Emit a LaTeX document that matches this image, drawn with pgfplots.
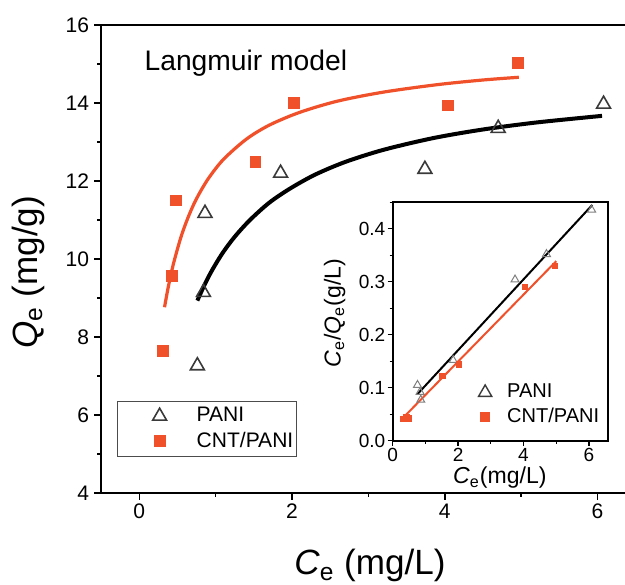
\documentclass[border=0pt]{standalone}
\usepackage{fontspec}
\setmainfont{Liberation Sans}
\usepackage{pgfplots}
\pgfplotsset{compat=1.18}
\usetikzlibrary{calc}
\definecolor{cntred}{HTML}{F0502A}
\definecolor{trigray}{HTML}{3A3A3A}

\begin{document}
\begin{tikzpicture}
\begin{axis}[
    name=main,
    scale only axis,
    width=263bp, height=233.5bp,
    xmin=-0.5, xmax=6.4, ymin=4, ymax=16,
    axis line style={line width=1bp},
    tick pos=left,
    tick align=outside,
    xtick={0,2,4,6}, minor xtick={1,3,5},
    ytick={4,6,...,16}, minor ytick={5,7,...,15},
    major tick length=3.5bp, minor tick length=2bp,
    every tick/.style={line width=0.8bp, black},
    ticklabel style={font=\fontsize{10.5bp}{12bp}\selectfont},
    xticklabel style={yshift=1.5bp},
    yticklabel style={xshift=1bp},
    /pgf/number format/assume math mode=true,
    xlabel={\textit{C}\textsubscript{e} (mg/L)},
    ylabel={\textit{Q}\textsubscript{e} (mg/g)},
    label style={font=\fontsize{17.5bp}{20bp}\selectfont},
    xlabel style={at={(rel axis cs:0.51,-0.1756)}, anchor=base},
    ylabel style={at={(rel axis cs:-0.1217,0.471)}, anchor=base},
    legend image code/.code={\path[draw=none, fill=none] (0bp,0bp) (38bp,0bp); \draw[#1] plot coordinates {(20bp,0bp)};},
    legend style={at={(0.030,0.077)}, anchor=south west, draw=gray!60!black, line width=0.6bp,
        font=\fontsize{10.5bp}{12bp}\selectfont, inner xsep=1bp, inner ysep=2.5bp,
        nodes={inner sep=0.5bp}, row sep=2.5bp},
    legend cell align=left,
]
\addplot[only marks, mark=triangle, mark size=4bp, mark options={draw=trigray, line width=0.8bp}]
    coordinates {(0.76,7.26) (0.84,9.14) (0.86,11.17) (1.85,12.2) (3.74,12.3) (4.70,13.35) (6.08,13.97)};
\addlegendentry{PANI}
\addplot[only marks, mark=square*, mark size=2.7bp, mark options={draw=cntred, fill=cntred}]
    coordinates {(0.31,7.64) (0.43,9.57) (0.48,11.5) (1.52,12.48) (2.02,14.0) (4.04,13.94) (4.96,15.02)};
\addlegendentry{CNT/PANI}
\addplot[black, line width=2bp, smooth, forget plot]
    coordinates {(0.76,8.93) (0.85,9.32) (0.95,9.70) (1.09,10.15) (1.25,10.57) (1.45,11.0) (1.7,11.44)
                 (1.97,11.8) (2.3,12.16) (2.7,12.49) (3.2,12.8) (3.85,13.1) (4.5,13.32) (5.2,13.5) (6.06,13.67)};
\addplot[cntred, line width=1.6bp, smooth, forget plot]
    coordinates {(0.33,8.76) (0.38,9.29) (0.45,9.9) (0.55,10.59) (0.65,11.12) (0.75,11.55) (0.9,12.05)
                 (1.1,12.55) (1.4,13.07) (1.7,13.43) (2.1,13.76) (2.6,14.05) (3.2,14.28) (3.9,14.47)
                 (4.5,14.59) (4.97,14.66)};
\node[anchor=base west, inner sep=0pt, font=\fontsize{14.1bp}{16bp}\selectfont] at (rel axis cs:0.0817,0.9036) {Langmuir model};
\end{axis}

\begin{axis}[
    at={($(main.south west)+(145.5bp,26bp)$)}, anchor=south west,
    scale only axis,
    width=107.5bp, height=119bp,
    xmin=0, xmax=6.58, ymin=0, ymax=0.45,
    axis background/.style={fill=white},
    axis line style={line width=0.9bp},
    tick pos=left,
    tick align=outside,
    xtick={0,2,4,6}, minor xtick={1,3,5},
    ytick={0,0.1,...,0.4}, minor ytick={0.05,0.15,...,0.45},
    major tick length=2.5bp, minor tick length=1.5bp,
    every tick/.style={line width=0.6bp, black},
    ticklabel style={font=\fontsize{9.5bp}{11bp}\selectfont, inner sep=1bp},
    yticklabel style={/pgf/number format/.cd, fixed, fixed zerofill, precision=1},
    /pgf/number format/assume math mode=true,
    xlabel={\textit{C}\textsubscript{e}(mg/L)},
    ylabel={\textit{C}\textsubscript{e}/\textit{Q}\textsubscript{e}(g/L)},
    label style={font=\fontsize{11.5bp}{13bp}\selectfont},
    xlabel style={at={(rel axis cs:0.498,-0.18)}, anchor=base},
    ylabel style={at={(rel axis cs:-0.242,0.535)}, anchor=base},
    legend image code/.code={\path[draw=none, fill=none] (0bp,0bp) (18bp,0bp); \draw[#1] plot coordinates {(7.5bp,0bp)};},
    legend style={at={(0.358,0.243)}, anchor=north west, draw=none, fill=none,
        font=\fontsize{10bp}{12bp}\selectfont, inner sep=0bp,
        nodes={inner sep=0.5bp}, row sep=2.5bp},
    legend cell align=left,
]
\addplot[black, line width=1bp, forget plot] coordinates {(0.76,0.088) (6.1,0.445)};
\addplot[cntred, line width=1bp, forget plot] coordinates {(0.3,0.042) (5.0,0.339)};
\addplot[only marks, mark=triangle, mark size=2.3bp, mark options={draw=gray, line width=0.5bp}, forget plot]
    coordinates {(0.76,0.105) (0.84,0.092) (0.86,0.077) (1.85,0.152) (3.74,0.304) (4.70,0.352) (6.08,0.436)};
\addplot[only marks, mark=square*, mark size=1.4bp, mark options={draw=cntred, fill=cntred}, forget plot]
    coordinates {(0.31,0.041) (0.43,0.045) (0.48,0.042) (1.52,0.122) (2.02,0.144) (4.04,0.29) (4.96,0.33)};
\addlegendimage{only marks, mark=triangle, mark size=3.8bp, mark options={draw=trigray, line width=0.7bp}}
\addlegendentry{PANI}
\addlegendimage{only marks, mark=square*, mark size=2.2bp, mark options={draw=cntred, fill=cntred}}
\addlegendentry{CNT/PANI}
\end{axis}

\pgfresetboundingbox
\path[use as bounding box] ($(main.south west)+(-50.5bp,-46bp)$) rectangle ($(main.north east)+(-1.5bp,12.5bp)$);
\end{tikzpicture}
\end{document}
